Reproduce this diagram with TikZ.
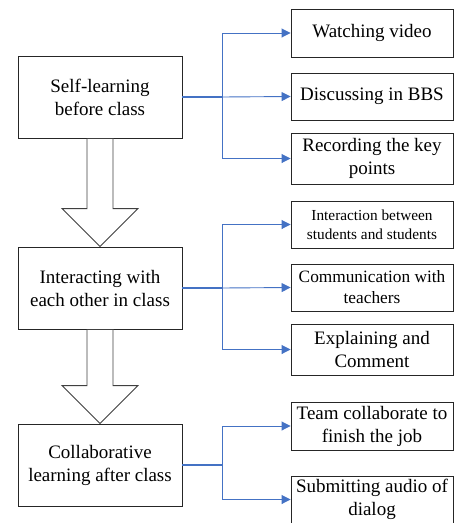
\documentclass[tikz,border=0pt]{standalone}
\usepackage{fontspec}
\setmainfont{Liberation Serif}
\usetikzlibrary{arrows.meta,calc}
\definecolor{linkblue}{HTML}{4472C4}
\begin{document}
\begin{tikzpicture}[x=1pt,y=-1pt,
  stage/.style={draw=black!85,line width=0.9pt,minimum width=164pt,minimum height=82pt,
                inner sep=0pt,align=center,font=\fontsize{19}{23}\selectfont},
  task/.style={draw=black!85,line width=0.9pt,minimum width=162pt,inner sep=0pt,
               align=center,font=\fontsize{19}{23}\selectfont},
  link/.style={draw=linkblue,line width=0.9pt,-{Triangle[length=9pt,width=9pt]}},
  hollow/.style={draw=black!75,line width=0.9pt,fill=white}]

\useasboundingbox (0,0) rectangle (454,523);

% stages on the left
\node[stage] (self)   at (100,97)  {Self-learning\\before class};
\node[stage] (inter)  at (100,288) {Interacting with\\each other in class};
\node[stage] (collab) at (100,465) {Collaborative\\learning after class};

% tasks on the right
\node[task,minimum height=48pt] (video)  at (372,33)    {Watching video};
\node[task,minimum height=47pt] (bbs)    at (372,96.5)  {Discussing in BBS};
\node[task,minimum height=51pt] (record) at (372,158.5) {Recording the key\\points};
\node[task,minimum height=47pt,font=\fontsize{15.3}{19}\selectfont]
                                (peer)   at (372,224.5) {Interaction between\\students and students};
\node[task,minimum height=47pt,font=\fontsize{17.3}{21}\selectfont]
                                (teach)  at (372,287.5) {Communication with\\teachers};
\node[task,minimum height=51pt] (expl)   at (372,349.5) {Explaining and\\Comment};
\node[task,minimum height=48pt] (team)   at (372,426)   {Team collaborate to\\finish the job};
\node[task,minimum height=47pt] (audio)  at (372,499.5) {Submitting audio of\\dialog};

% big hollow arrows between stages
\draw[hollow] ([xshift=-13pt]self.south) -- ($(inter.north)+(-13,-38)$) -- ++(-25,0)
      -- (inter.north) -- ++(38,-38) -- ++(-25,0) -- ([xshift=13pt]self.south) -- cycle;
\draw[hollow] ([xshift=-13pt]inter.south) -- ($(collab.north)+(-13,-38)$) -- ++(-25,0)
      -- (collab.north) -- ++(38,-38) -- ++(-25,0) -- ([xshift=13pt]inter.south) -- cycle;

% branches
\coordinate (j1) at (222,97);
\coordinate (j2) at (222,288);
\coordinate (j3) at (222,465);
\draw[draw=linkblue,line width=1.1pt] (self.east) -- (j1) (inter.east) -- (j2) (collab.east) -- (j3);
\draw[link] (j1) |- (video.west);
\draw[link] (j1) -- (bbs.west);
\draw[link] (j1) |- (record.west);
\draw[link] (j2) |- (peer.west);
\draw[link] (j2) -- (teach.west);
\draw[link] (j2) |- (expl.west);
\draw[link] (j3) |- (team.west);
\draw[link] (j3) |- (audio.west);
\end{tikzpicture}
\end{document}
